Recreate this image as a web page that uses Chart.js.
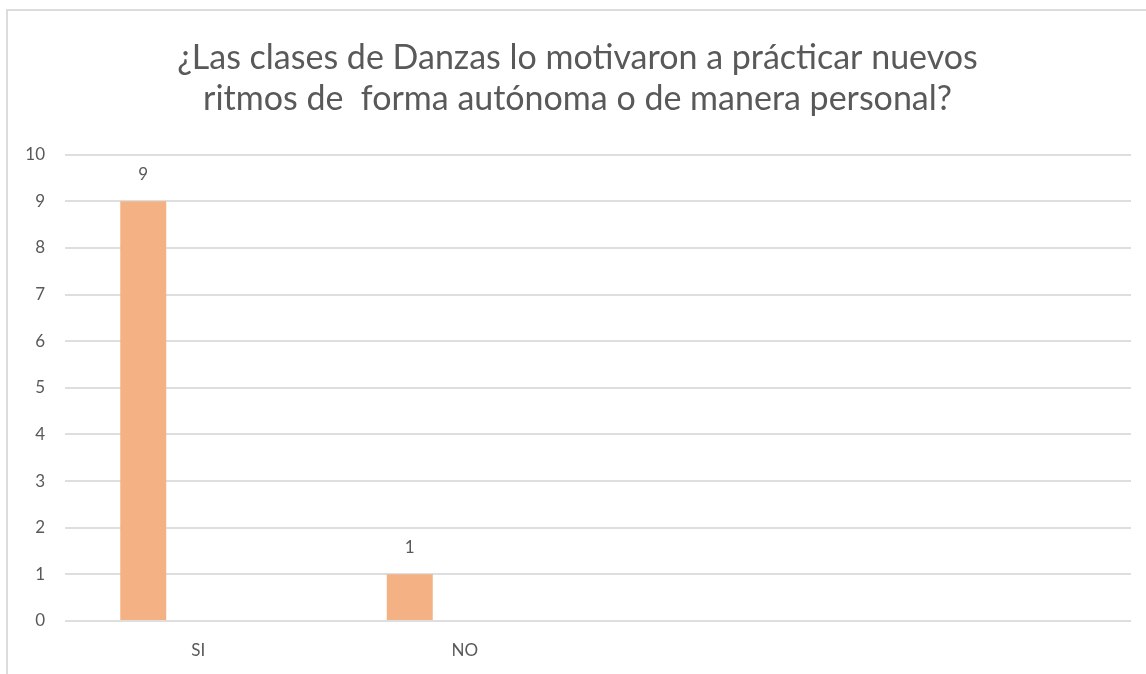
<!DOCTYPE html>
<html>
<head>
<meta charset="utf-8">
<script src="https://cdn.jsdelivr.net/npm/chart.js@4.4.1/dist/chart.umd.min.js"></script>
<style>
  html, body { margin: 0; padding: 0; background: #fff; overflow: hidden; }
  #frame { position: absolute; left: 6px; top: 9px; width: 1200px; height: 700px; border: 2px solid #dcdcdc; box-sizing: border-box; }
  #wrap { position: absolute; left: 0; top: 0; width: 1146px; height: 674px; }
</style>
</head>
<body>
<div id="frame"></div>
<div id="wrap"><canvas id="c" width="1146" height="674"></canvas></div>
<script>
const titleLines = ["¿Las clases de Danzas lo motivaron a prácticar nuevos", "ritmos de  forma autónoma o de manera personal?"];
const categories = ["SI", "NO", "", ""];
const serie1 = [9, 1, null, null];
const serie2 = [null, null, null, null];
const serie3 = [null, null, null, null];
const yTicks = [0, 1, 2, 3, 4, 5, 6, 7, 8, 9, 10];

const textColor = "#595959";
const fontFam = "Lato, 'Open Sans', sans-serif";

const labelPlugin = {
  id: "barLabels",
  afterDatasetsDraw(chart) {
    const ctx = chart.ctx;
    ctx.save();
    ctx.fillStyle = textColor;
    ctx.font = "17px " + fontFam;
    ctx.textAlign = "center";
    ctx.textBaseline = "middle";
    chart.data.datasets.forEach((ds, i) => {
      const meta = chart.getDatasetMeta(i);
      meta.data.forEach((el, j) => {
        const v = ds.data[j];
        if (v === null || v === undefined) return;
        ctx.fillText(String(v), el.x, el.y - 27);
      });
    });
    ctx.restore();
  }
};

new Chart(document.getElementById("c"), {
  type: "bar",
  data: {
    labels: categories,
    datasets: [
      { label: "Serie1", data: serie1, backgroundColor: "#F4B183" },
      { label: "Serie2", data: serie2, backgroundColor: "#F4B183" },
      { label: "Serie3", data: serie3, backgroundColor: "#F4B183" }
    ]
  },
  options: {
    responsive: false,
    animation: false,
    categoryPercentage: 0.619,
    barPercentage: 0.836,
    layout: { padding: { left: 24, right: 15, top: 0, bottom: 0 } },
    plugins: {
      legend: { display: false },
      tooltip: { enabled: false },
      title: {
        display: true,
        text: titleLines,
        color: textColor,
        font: { family: fontFam, size: 34, weight: "normal" },
        lineHeight: 1.265,
        padding: { top: 38, bottom: 35 }
      }
    },
    scales: {
      x: {
        grid: { display: false, drawTicks: false },
        border: { display: false },
        ticks: { color: textColor, font: { family: fontFam, size: 17 }, padding: 19 },
        afterFit(scale) { scale.height = 53; }
      },
      y: {
        min: 0,
        max: 10,
        afterBuildTicks(scale) { scale.ticks = yTicks.map(v => ({ value: v })); },
        grid: { color: "#dedede", lineWidth: 2, drawTicks: false },
        border: { display: false },
        ticks: { color: textColor, font: { family: fontFam, size: 17 }, padding: 20 },
        afterFit(scale) { scale.width = 41; }
      }
    }
  },
  plugins: [labelPlugin]
});
</script>
</body>
</html>
